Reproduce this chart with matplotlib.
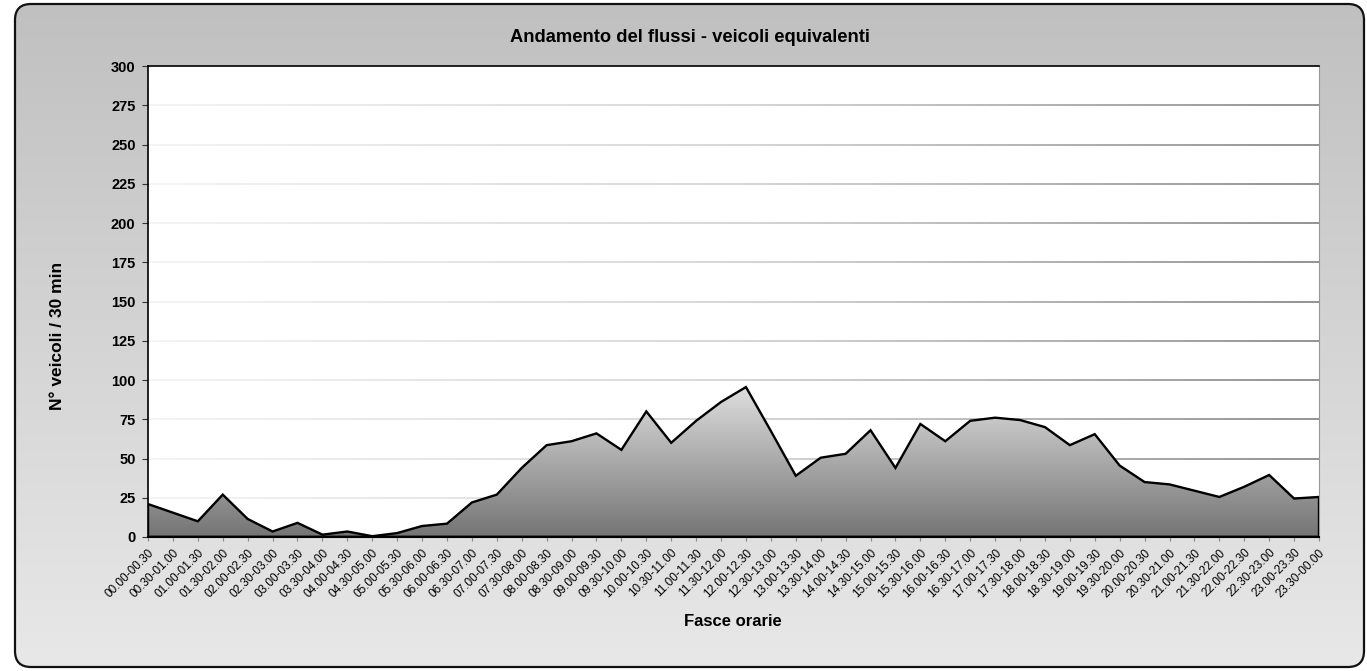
import matplotlib.pyplot as plt
import numpy as np
from matplotlib.patches import FancyBboxPatch, Polygon
from matplotlib.colors import LinearSegmentedColormap
from matplotlib.collections import LineCollection

plt.rcParams['font.family'] = ['Liberation Sans', 'DejaVu Sans']

# half-hour slots over the day
start_times = ['%02d.%s' % (h, m) for h in range(24) for m in ('00', '30')]
end_times = start_times[1:] + ['00.00']
slots = [a + '-' + b for a, b in zip(start_times, end_times)]

flows = [21, 15.5, 10, 27, 11.5, 3.5, 9, 1.5, 3.5, 0.5, 2.5, 7,
         8.5, 22, 27, 44, 58.5, 61, 66, 55.5, 80, 60, 74, 86,
         95.5, 67.5, 39, 50.5, 53, 68, 44, 72, 61, 74, 76, 74.5,
         70, 58.5, 65.5, 45.5, 35, 33.5, 29.5, 25.5, 32, 39.5, 24.5, 25.5]

yticks = list(range(0, 301, 25))

W, H = 1367, 671
fig = plt.figure(figsize=(W / 100, H / 100), dpi=100)
fig.patch.set_facecolor('white')

# outer panel with a vertical grey gradient and rounded frame
bg = fig.add_axes([0, 0, 1, 1])
bg.set_xlim(0, W)
bg.set_ylim(0, H)
bg.axis('off')
frame = FancyBboxPatch((15, 4), W - 18, H - 8,
                       boxstyle='round,pad=0,rounding_size=16',
                       facecolor='none', edgecolor='#111111', lw=1.6, zorder=3)
bg.add_patch(frame)
panel_cmap = LinearSegmentedColormap.from_list('panel', ['#e8e8e8', '#c0c0c0'])
grad = np.linspace(0, 1, 256).reshape(-1, 1)
img = bg.imshow(grad, cmap=panel_cmap, aspect='auto', origin='lower',
                extent=(15, W - 3, 4, H - 4), zorder=1)
img.set_clip_path(frame)

# plot area
left, right, top, bottom = 148, 1319, 66, 537
ax = fig.add_axes([left / W, (H - bottom) / H, (right - left) / W, (bottom - top) / H])
ax.set_facecolor('white')
x = np.arange(len(flows))
n = len(flows) - 1
ax.set_xlim(0, n)
ax.set_ylim(0, 300)

# gridlines fading from light on the left to darker on the right
grid_cmap = LinearSegmentedColormap.from_list('grid', ['#f2f2f2', '#d0d0d0', '#808080'])
xs = np.linspace(0, n, 121)
for v in yticks[1:-1]:
    pts = np.array([xs, np.full_like(xs, v)]).T.reshape(-1, 1, 2)
    segs = np.concatenate([pts[:-1], pts[1:]], axis=1)
    lc = LineCollection(segs, cmap=grid_cmap, lw=1.2, zorder=1)
    lc.set_array(np.linspace(0, 1, len(segs)))
    ax.add_collection(lc)

# gradient-filled area
fill_cmap = LinearSegmentedColormap.from_list('fill', ['#747474', '#dedede'])
verts = [(0, 0)] + list(zip(x, flows)) + [(x[-1], 0)]
poly = Polygon(verts, closed=True, facecolor='none', edgecolor='black',
               lw=1.7, zorder=3)
ax.add_patch(poly)
area = ax.imshow(grad, cmap=fill_cmap, aspect='auto', origin='lower',
                 extent=(0, x[-1], 0, max(flows)), zorder=2)
area.set_clip_path(poly)
ax.axhline(0, color='black', lw=2.5, zorder=4)

ax.set_yticks(yticks)
ax.set_yticklabels([str(v) for v in yticks], fontsize=10.5, fontweight='bold')
ax.set_xticks(x)
ax.set_xticklabels(slots, rotation=45, ha='right', va='top',
                   rotation_mode='anchor', fontsize=8.5)
ax.tick_params(axis='x', length=3, color='#888888', pad=4)
ax.tick_params(axis='y', length=4, color='#333333', pad=5)

for side in ('left', 'top'):
    ax.spines[side].set_color('black')
    ax.spines[side].set_linewidth(1.2)
ax.spines['right'].set_color('#999999')
ax.spines['bottom'].set_color('black')
ax.spines['bottom'].set_linewidth(1.5)

fig.text(58 / W, 1 - 336 / H, 'N° veicoli / 30 min', rotation=90,
         ha='center', va='center', fontsize=12.5, fontweight='bold')
fig.text(690 / W, 1 - 37 / H, 'Andamento del flussi - veicoli equivalenti',
         ha='center', va='center', fontsize=13.2, fontweight='bold')
fig.text(733 / W, 1 - 621 / H, 'Fasce orarie', ha='center', va='center',
         fontsize=12, fontweight='bold')

fig.savefig('out.png', dpi=100)
